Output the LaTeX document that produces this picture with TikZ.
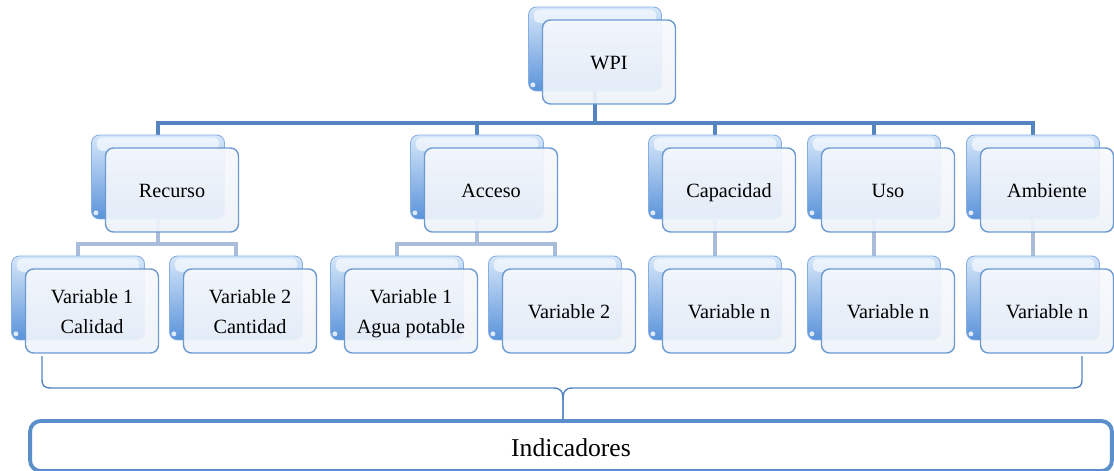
\documentclass[tikz,border=0pt]{standalone}
\usepackage{fontspec}
\setmainfont{Liberation Serif}
\usetikzlibrary{backgrounds}

\definecolor{linkdark}{HTML}{5585C0}
\definecolor{linklight}{HTML}{A9BDDA}
\definecolor{cardedge}{HTML}{6C9AD0}
\definecolor{cardtop}{HTML}{F6F8FC}
\definecolor{cardbot}{HTML}{EEF3FA}
\definecolor{tabtop}{HTML}{D6E7FA}
\definecolor{tabbot}{HTML}{5A93DA}
\definecolor{tabedge}{HTML}{86AEE2}
\definecolor{totaledge}{HTML}{5B8FC9}

% struts fixing where the baselines sit inside the boxes
\newcommand\cardstrut{\rule[-4pt]{0pt}{17pt}}
\newcommand\totalstrut{\rule[-2pt]{0pt}{15.6pt}}

\tikzset{
  tab/.style={minimum width=2.66cm, minimum height=1.68cm, inner sep=0pt,
    rounded corners=4.5pt, draw=tabedge, line width=0.5pt,
    top color=tabtop, bottom color=tabbot,
    path picture={
      \fill[white, opacity=0.6, rounded corners=3pt]
        ([shift={(3pt,-1.5pt)}]path picture bounding box.north west)
        rectangle ([shift={(-3pt,-9pt)}]path picture bounding box.north east);
      \fill[white, opacity=0.8]
        ([shift={(2.5pt,3.5pt)}]path picture bounding box.south west) circle (1.4pt);
    }},
  card/.style={minimum width=2.66cm, minimum height=1.68cm, inner sep=0pt,
    rounded corners=4.5pt, draw=cardedge, line width=0.8pt,
    top color=cardtop, bottom color=cardbot, fill opacity=0.92, text opacity=1,
    align=center, font=\fontsize{11.5}{17}\selectfont},
  bus/.style={draw=linkdark, line width=2.6pt},
  subbus/.style={draw=linklight, line width=2.6pt},
  brace/.style={draw=linkdark, line width=0.8pt},
  total/.style={minimum width=21.64cm, minimum height=1.0cm, inner sep=0pt,
    rounded corners=6pt, draw=totaledge, line width=2.2pt, fill=white,
    font=\fontsize{14.6}{17}\selectfont}
}

\begin{document}
\begin{tikzpicture}[x=0.02cm, y=-0.02cm]
\useasboundingbox (0,0) rectangle (1114,470);

% back tabs of every card
\foreach \n/\x/\y in {wpi/609/62, rec/172/190, acc/491/190, cap/729/190,
    uso/888/190, amb/1047/190, va/92/311, vb/250/311, vc/411/311,
    vd/569/311, ve/729/311, vf/888/311, vg/1047/311}
  \node[tab] (\n b) at (\x-14,\y-13) {};

% front cards with their labels
\foreach \n/\x/\y/\t in {wpi/609/62/WPI, rec/172/190/Recurso,
    acc/491/190/Acceso, cap/729/190/Capacidad, uso/888/190/Uso,
    amb/1047/190/Ambiente,
    va/92/311/{Variable 1\\Calidad}, vb/250/311/{Variable 2\\Cantidad},
    vc/411/311/{Variable 1\\Agua potable}, vd/569/311/{Variable 2},
    ve/729/311/{Variable n}, vf/888/311/{Variable n}, vg/1047/311/{Variable n}}
  \node[card] (\n) at (\x,\y) {\cardstrut\t\cardstrut};

% summary box
\node[total] (ind) at (571,446) {\totalstrut Indicadores};

% connectors run behind the cards
\begin{pgfonlayer}{background}
  \coordinate (bus1) at (0,123);
  \coordinate (bus2) at (0,244);
  \foreach \c in {rec, acc, cap, uso, amb}
    \draw[bus] (wpib.south) |- (bus1 -| \c b.north) -- (\c b.north);
  \foreach \p/\c in {rec/va, rec/vb, acc/vc, acc/vd}
    \draw[subbus] (\p b.south) |- (bus2 -| \c b.north) -- (\c b.north);
  \foreach \p/\c in {cap/ve, uso/vf, amb/vg}
    \draw[subbus] (\p b.south) -- (\c b.north);
\end{pgfonlayer}

% brace gathering all variables into the indicators
\coordinate (bl) at (42,356);
\coordinate (br) at (1082,356);
\coordinate (tip) at (563,420);
\draw[brace] (bl) -- (42,379) .. controls (42,386) and (44,388) .. (52,388)
  -- (553,388) .. controls (561,388) and (563,391) .. (563,401) -- (tip);
\draw[brace] (tip) -- (563,401) .. controls (563,391) and (565,388) .. (573,388)
  -- (1072,388) .. controls (1080,388) and (1082,386) .. (1082,379) -- (br);
\end{tikzpicture}
\end{document}
